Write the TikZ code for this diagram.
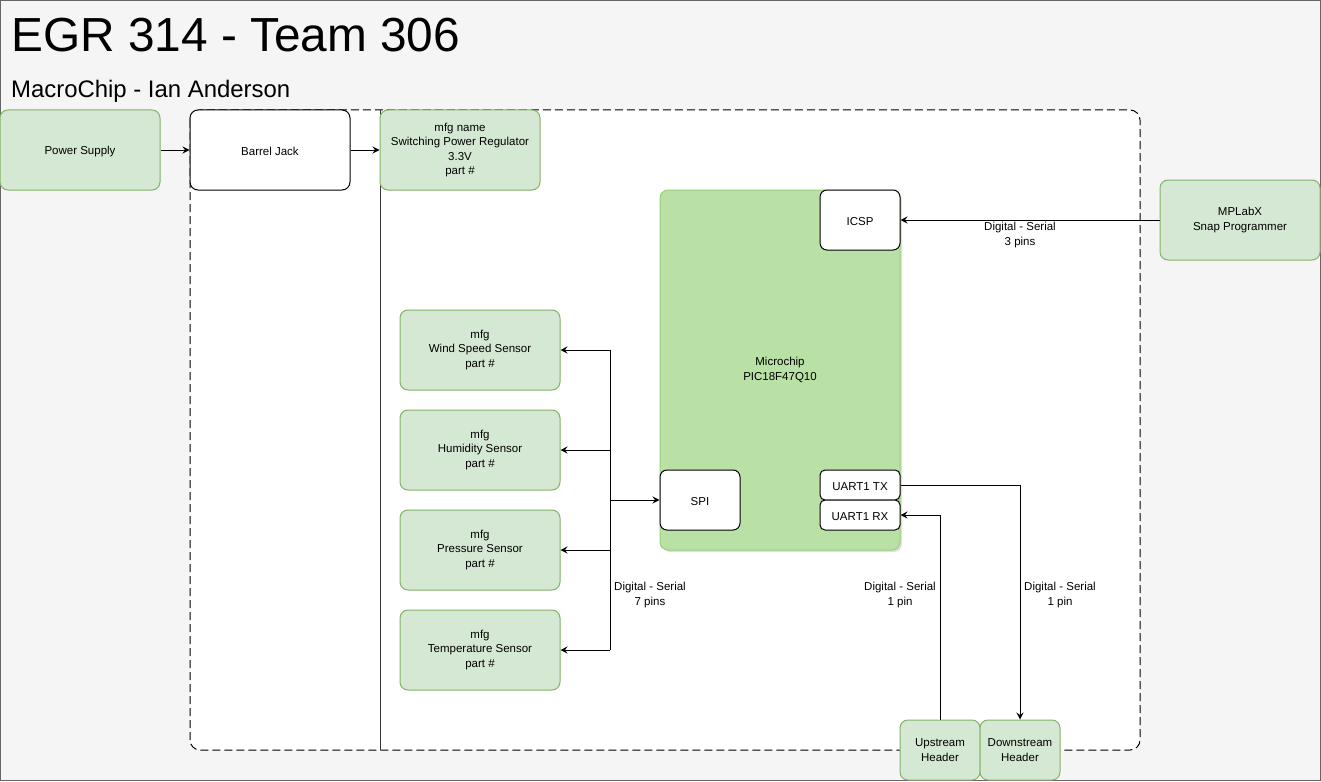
\documentclass[tikz,border=0pt]{standalone}
\usepackage{fontspec}
\setmainfont{Liberation Sans}
\usepackage{xcolor}
\usetikzlibrary{arrows.meta,shadows}
\definecolor{partgreen}{HTML}{D5E8D4}
\definecolor{partedge}{HTML}{82B366}
\definecolor{chipgreen}{HTML}{B9E0A5}
\definecolor{chipedge}{HTML}{97D077}
\definecolor{pagegray}{HTML}{F5F5F5}
\definecolor{framegray}{HTML}{666666}
\tikzset{
  part/.style={rectangle,rounded corners=8pt,draw=partedge,fill=partgreen,
    line width=1pt,minimum width=160pt,minimum height=80pt,inner sep=0pt,
    align=center,execute at begin node={\rule{0pt}{11.5pt}},
    font=\fontsize{11.5}{14.5}\selectfont},
  plain part/.style={part,draw=black,fill=white},
  small part/.style={part,minimum width=80pt,minimum height=60pt},
  port/.style={plain part,minimum width=80pt,minimum height=60pt,rounded corners=7pt},
  thin port/.style={port,minimum height=30pt,rounded corners=5pt},
  link/.style={draw=black,line width=1pt,-{Stealth[length=7pt,width=7pt,inset=2.5pt]}},
  bus/.style={draw=black,line width=1pt},
  tag/.style={align=center,execute at begin node={\rule{0pt}{11.5pt}},
    font=\fontsize{11.5}{14.5}\selectfont,inner sep=0pt}
}

\begin{document}
\begin{tikzpicture}[x=1pt,y=-1pt]
  \useasboundingbox (0,0) rectangle (1321,781);
  \path[fill=pagegray,draw=framegray,line width=1pt] (0.5,0.5) rectangle (1320.5,780.5);
  \node[anchor=base west,inner sep=0pt,font=\fontsize{47.8}{50}\selectfont] (title) at (11,52) {EGR 314 - Team 306};
  \node[anchor=base west,inner sep=0pt,font=\fontsize{23.9}{26}\selectfont] (author) at (11,98) {MacroChip - Ian Anderson};
  \draw[fill=white,line width=1pt,dash pattern=on 8pt off 4pt,rounded corners=10pt] (190,110) rectangle (1140,750);
  \draw[black!80,line width=1pt] (380,110) -- (380,750);

  \node[part] (supply) at (80,150) {Power Supply};
  \node[plain part] (jack) at (270,150) {Barrel Jack};
  \node[part] (regulator) at (460,150) {mfg name\\Switching Power Regulator\\3.3V\\part \#};
  \node[part] (snap) at (1240,220) {MPLabX\\Snap Programmer};

  \node[part,draw=chipedge,fill=chipgreen,minimum width=240pt,minimum height=360pt,
    drop shadow={shadow xshift=2pt,shadow yshift=-2pt,opacity=0.25}] (mcu) at (780,370) {Microchip\\PIC18F47Q10};
  \node[port] (icsp) at (860,220) {ICSP};
  \node[port] (spi) at (700,500) {SPI};
  \node[thin port] (tx) at (860,485) {UART1 TX};
  \node[thin port] (rx) at (860,515) {UART1 RX};

  \node[part] (wind) at (480,350) {mfg\\Wind Speed Sensor\\part \#};
  \node[part] (humid) at (480,450) {mfg\\Humidity Sensor\\part \#};
  \node[part] (press) at (480,550) {mfg\\Pressure Sensor\\part \#};
  \node[part] (temp) at (480,650) {mfg\\Temperature Sensor\\part \#};

  \node[small part] (up) at (940,750) {Upstream\\Header};
  \node[small part] (down) at (1020,750) {Downstream\\Header};

  \draw[link] (supply) -- (jack);
  \draw[link] (jack) -- (regulator);
  \draw[link] (snap) -- (icsp);

  \coordinate (trunk) at (610,500);
  \draw[bus] (trunk |- wind) -- (trunk |- temp);
  \foreach \s in {wind,humid,press,temp}
    \draw[link] (trunk |- \s) -- (\s);
  \draw[link] (trunk) -- (spi);

  \draw[link] (tx.east) -| (down.north);
  \draw[link] (up.north) |- (rx.east);

  \node[tag] (icsplabel) at (1020,235) {Digital - Serial\\3 pins};
  \node[tag] (buslabel) at (650,595) {Digital - Serial\\7 pins};
  \node[tag] (rxlabel) at (900,595) {Digital - Serial\\1 pin};
  \node[tag] (txlabel) at (1060,595) {Digital - Serial\\1 pin};
\end{tikzpicture}
\end{document}
